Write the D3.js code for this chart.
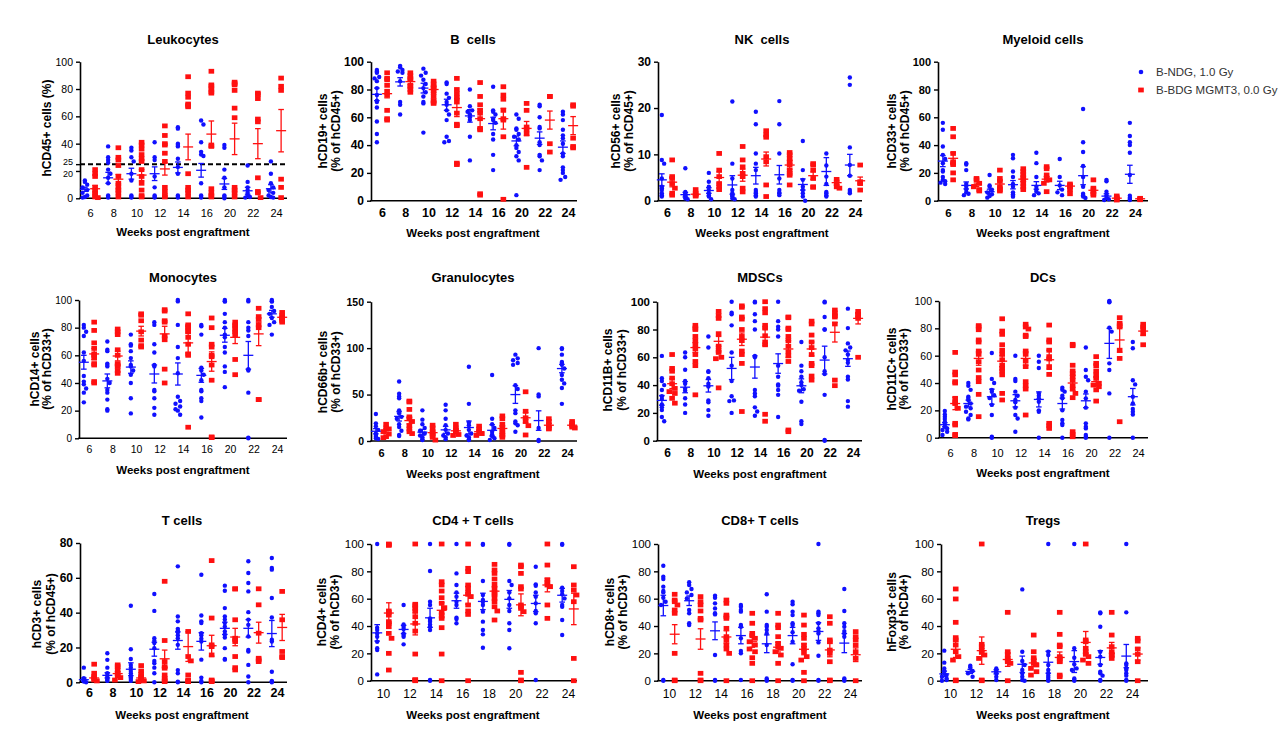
<!DOCTYPE html>
<html><head><meta charset="utf-8">
<script src="https://cdn.jsdelivr.net/npm/d3@7"></script>
<style>body{margin:0;background:#fff}svg{display:block}text{font-family:"Liberation Sans",Arial,sans-serif}</style>
</head><body><svg id="c" width="1288" height="734"></svg>
<script>
const catsA=["6","8","10","12","14","16","20","22","24"];
const catsB=["10","12","14","16","18","20","22","24"];
const legendLabels=["B-NDG, 1.0 Gy","B-BDG MGMT3, 0.0 Gy"];
const leuThreshold=25;

// Leukocytes
const leuB=[[13,12,10,8,6,4,2,1,0.5],[38,30,28,26,21,18,15,11,2,1,0.5],[37,35,30,27,18,13,2,1,0.5],[41,30,28,16,8,2,1,0.5],[52,51,40,39,38,29,23,18,2,1,0.5],[57,54,41,34,32,31,11,2,1,0.5],[39,37,21,15,8,2,1,0],[24,12,8,6,4,2,1,0.5],[27,18,11,8,6,4,2,1,0.5]];
const leuBMean=[6.6,15,18,18,22.6,20.5,10.5,5.5,7];
const leuBSem=[1.5,4,4,5,4,5,4,2.5,3];
const leuR=[[21,18,16,8,6,4,2,1,0.5],[37,30,28,24,16,11,8,6,4,1],[41,39,36,32,29,27,21,16,11,6,2,1],[53,46,40,39,33,27,8,5,2,1],[89,77,74,69,68,67,18,8,6,4,1],[93,83,82,80,78,77,39,38,7,4,2,1],[85,84,83,79,66,59,8,6,4,1],[77,76,73,58,56,15,5,4,0.5],[88,82,79,14,8,0.5]];
const leuRMean=[7,14,17,21.5,37.6,47,43.5,40,49.5];
const leuRSem=[2.5,3.5,4,4.5,9.4,9.6,11.5,11,15.5];
// B cells
const bcB=[[94,93,92,89,88,86,81,76,72,71,67,57,48,42],[97,96,94,93,92,86,71,69,62],[95,92,90,87,84,81,78,75,71,70,49],[85,84,77,74,71,69,65,62,58,46,43,42],[80,68,65,64,62,60,58,46,29],[82,65,64,62,59,58,56,48,44,33,22],[62,59,52,51,48,46,44,40,38,35,32,29,4],[69,68,60,53,52,42,40,33,32,29,22],[64,62,58,51,47,45,41,34,32,24,22,20,17,15]];
const bcBMean=[76.5,85.5,81,69,61,55.5,43,45,38.5];
const bcBSem=[4.5,3,3.5,4,4.5,4.5,3.5,4.5,4.5];
const bcR=[[92,88,87,83,78,76,65,59,58],[92,90,88,87,83,82,80,78],[86,84,82,81,78,75,72,71,70],[88,80,77,74,71,63,55,54,27,26],[85,75,69,65,63,59,52,51,5,4],[82,76,73,65,59,58,46,1],[70,65,53,51,48,24],[75,75,41,35],[69,68,45,39,38]];
const bcRMean=[77,85.7,80,67,59,59,52,58,54];
const bcRSem=[3,2,2,6.5,7,7.5,5,6.5,6.5];
// NK cells
const nkB=[[18.5,8.8,8,4.8,3,2.7,2.3,1.6,1.2,0.9],[7,1.9,1.6,1.2,0.9,0.5,0.3],[6,4.1,3,2.3,1.6,1.2,0.9,0.3],[21.4,8,4.8,2.3,1.6,1.2,0.9,0.5,0.3],[19.2,16.5,10.2,8,6.6,2.3,1.9,1.6,1.2,0.9],[21.5,16.5,10.2,4.8,2.3,1.7,1.6,1.2],[12.9,6.6,4.5,3,2.3,1.6,0.9,0],[10.2,7.6,5.2,3.6,1.9,1.6,1.2,0.9],[26.6,25,11.5,7.7,5.4,2.3,1.9,1.6]];
const nkBMean=[4.5,1.3,2.2,3.4,5.4,5.6,3.5,6.3,7.7];
const nkBSem=[1.3,0.5,0.6,2,1.8,2,1.2,3,2.3];
const nkR=[[8.8,5.2,4.8,3.7,2.7,1.6,1.2],[2.4,1.6,1.2,1],[10.2,6.6,5.2,3.7,3,2.4],[11.7,8.8,7.3,5.9,5.2,2.7,1.9],[15.1,14.2,13.7,9.5,8.4,3.4,0.9],[10.4,9.9,9.1,8.4,7.7,6.6,5.9,5.5,3.4],[8,7.7,6.6,4.8,3,2.9],[4.6,3.7,3,2.7],[7.7,4.1,3.7,2.3]];
const nkRMean=[4,1.4,5,5.5,9,7.7,5.4,3.9,4.3];
const nkRSem=[1,0.3,1.2,1.3,1.5,0.9,0.8,0.5,0.8];
// Myeloid cells
const myB=[[56,51,39,33,30,27,22,21,17,15,14,13,12],[27,26,22,12,10,8,6,5,4],[18.5,11,10,8,6,4.6,3.4,2.2],[33,30.5,21,17,12,10,6,4.6,3.6,2.9],[34.5,27,17,10,8,6.5,5.3,4],[30,17,11,8,6,4],[66,42,35,25,17,10,5,4,3,2],[15,14,6.5,4,2,1,0.5],[56,46.5,42,40,34.5,18.5,3.6,2.2,1.2,0.5]];
const myBMean=[28.5,11,6.5,11.5,11,11,18,3.3,19];
const myBSem=[4,2.5,1.8,3,2.7,3,6.5,1.7,6.5];
const myR=[[52,46,34,28,27,26,20,15],[16,15,12.5,10,8,7],[22,16,14,10,8,7],[23,21,19,17,15,12.5,10,8],[24.5,23,18.5,16,15,12.5,6.5],[12,11,10,8,5],[15,9,6.5,5,4],[3.4,2.2,1.2,0.5],[1.7,1.2,0.7]];
const myRMean=[30.5,11.5,12,15.5,15.5,10.5,7.5,1.8,1.4];
const myRSem=[4,1.2,2.2,1.7,2,1.3,1.5,0.5,0.2];
// Monocytes
const moB=[[82,80,77,74,62,56,45,41,39,36,33,26],[70,64,63,54,53,52,43,40,35,33,28,21,20],[75,68,67,63,58,53,52,49,46,40,29,18],[84,82,68,62,53,52,35,34,29,22,17],[100,99,82,66,58,47,30,27,25,23,21,20,17],[82,81,75,51,49,46,42,35,34,29,27,15],[100,99,99,90,84,80,75,73,66,62,52,48,37],[100,99,84,80,78,74,50,49,33,0.5,0],[100,99,99,95,92,90,87,84,82,75]];
const moBMean=[55,41.5,51.5,46.5,46.5,45.5,74.5,60,90];
const moBSem=[5,5,4.5,6.5,8,5,5,10,2.5];
const moR=[[84,78,69,65,61,60,58,54,53,41,40],[79,77,75,64,60,54,53,52,49,47],[90,89,85,77,71,67,66],[93,92,85,84,74,72,50,40],[90,82,81,80,78,77,73,68,61,60,8],[87,80,68,66,60,59,53,42,1,0.5],[84,82,81,79,77,75,57,46],[94,88,86,82,80,28,28],[91,89,87,86,85,84]];
const moRMean=[61,59.5,77.5,75.5,69,55.5,73,75.5,87.5];
const moRSem=[4,3.5,3.5,5.5,7,7,4.5,8.5,1];
// Granulocytes
const grB=[[29,19,16,12,8,6.5,4.7,2.9,2.2],[64,51,48,46,33,30,26,24,18,15,11,6.5,5.4],[33,23,18,14,11,8,6,4,2,1],[39,33,24,17,12,8,6,4,2],[80,40,20,17,12,8,6,4,2,1],[71,24,18,14,10,7,5,3,1],[93,89,87,84,82,60,56,33,30,21,19,17,10],[100,50,48,14,0,1],[100,99,93,85,84,82,78,71,66,62,57,40]];
const grBMean=[10.5,26.5,9.5,12,14.5,11.5,50,22,78];
const grBSem=[2.8,5,3,3.7,7,6,9.5,10.5,4.5];
const grR=[[18,14,13,10,7.5,4.7,3.6],[43,42,34,26,24,21,16.5,13,10,8],[17,14,10,8,6,4,1],[18,14,12,10,7,6],[16,13,10,8,6],[27,24,18,14,10,7,6,4],[53,32,25,21,16.5,6.5],[24,21,17,14,13],[21,19,17,15,14]];
const grRMean=[11.5,22,9,11,10,13.5,25,17,17];
const grRSem=[2,3.5,2,2,1.8,3,5.5,2,1.3];
// MDSCs
const mdB=[[61,45,43,40,36.5,32,30,26,24,22,17,14],[63.5,60,51,43,41,37.5,36,30.5,26,20],[75,67,50,49.5,45,41,39,29,27.6,22,18],[100,92,91,83,63.5,54,43,32,29,28.5,20],[100,99.5,91,86,80,61,60,36.5,34,32,24,21,18],[100,86,82,80,75,54,46,40.5,39.6,36.5,33,17],[71,54,50,46,42,40,37,36,28,14,12],[100,99.5,89,80,80,60,50,48,33,0.5,0],[95,81,70,67,65,62,58,56,46,44,28.5,24.5]];
const mdBMean=[29,38.5,39.5,52,53,55.5,39.5,58,59];
const mdBSem=[3.5,4,4.5,8,8,7,5,10,5.5];
const mdR=[[62,52,50,45,41,37.6,35.3,34,30.5,27],[83,81,80,75,72,69,66,62,57,54,33],[93,90,88,77,68,65,63.5,60,59,38],[97,96,89,87.5,80,75,72,64.5,62,55.6,21],[100,95,92,83,81,75.5,71,69,19,14],[89,88.5,81,80,75,72,68,64,61,57,7.7,6.5],[86,84,76,71,67,62,55.6,54,46.5,43.6],[94,92,90,89,84,43.6,39.6],[93,91,90,88,60]];
const mdRMean=[41,67,71.5,73,74.5,66,66,78,88];
const mdRSem=[3.5,3.5,3.5,4.5,6,6,5,7,4];
// DCs
const dcB=[[19.5,17,15.4,13.7,11.7,9.8,8,6.8,5.6,4.4,2],[40,38,35,30,29,27.6,25,22.7,21.5,19,16.6,14,13.4],[62,43,40,35,33.7,31,29,24,16.6,0.7,0],[60,43,41.5,33.7,30.7,27.6,26,22,16.6,14,4.4],[60,55.6,51,32.4,30.7,28.8,26.3,20,19,0],[36.6,35,33.7,30.7,28.8,20,13,10.5,9.3,0],[66,49.5,44.6,42,33.7,28.8,22,10.5,8,6.8,2,0.7,0],[100,99.5,99,80.5,77.6,54.4,49.5,32.4,0],[70,65.4,42,39,30,25,21,19,17,0]];
const dcBMean=[9.5,25,30,27,28,25,27,69,30];
const dcBSem=[1.5,2.5,5.5,4.5,5.5,4,5,11,6];
const dcR=[[62.4,48,46,41,40,28.8,26,25,21.5,10.5,9.3,2.4,1.5],[82,81,79,71.5,70,63.4,61,55.6,49.5,44,41,31.7,15.4],[87,78,75.6,68,64,61,57,53,50.7,48.8,46,32.4,27.6],[83,81,79.5,75,74,63.4,61,56,52,41,38,35.6,16.6],[82.4,71.5,70,64,59.3,57.6,52,46.3,10.5,8.8,6.8],[68.3,67.3,53,48.8,47,44.6,42,38,35.6,32.4,29.3,4.4,2.4,0.7],[59.3,54.4,52.7,48.8,46,43.4,39.8,38.5,37.3,35,26.8],[87.8,83.7,82.4,81,64,58,11.7],[83,81,79,76,68]];
const dcRMean=[25,58,56,58,57,40,41,71.5,78];
const dcRSem=[4.5,5,4,5,7,5.5,3,9,3];
// T cells
const tcB=[[8.4,2.3,1.3,0.8,0.4,0],[16.7,12.9,8.4,5.2,3.8,2.7,1.9,1.3,0.8],[44,19,13.4,10,8.4,6.5,5.2,3.8,2.7,1.9,0.8],[50.7,41,25.3,23.8,22.5,19.6,12.3,10.9,8.4,5.2,0],[66.6,37.8,35,30.7,29.6,28.8,27,25.3,21.5,7,5.2,0.4,0],[61.8,38.4,35,34,28.2,27,25,23.4,13,2.7,0.8,0],[55.5,52.6,42.6,37.8,36,34,32,29.2,27.3,25.7,19.6,13.4,13],[69.5,62.8,57,52.2,40.3,36,33,26.3,18.6,17.7,10,3.3,0],[71.4,65.6,64.7,48.4,37.2,24.4,23.4,6.1,0.8,0.4,0]];
const tcBMean=[1.5,4,7.5,19,24,23.5,31,31,28];
const tcBSem=[1,1.5,3.7,4,5,5,3.5,5,7.5];
const tcR=[[10.4,5.2,3.3,2.3,1.3,0.8],[10,9,7.1,5.2,3.8,2.7,1.3],[9.6,6.5,4.6,3.3,2.3,1.3,0.8,0.4],[58,24,11.9,9,8.1,4.2,2.3,1.3,0.4],[29.2,14.8,12.3,4.2,1.3,0.8,0.4],[69.9,36.9,21.5,20.5,15.7,1.3,0.8,0.4],[53.7,53.6,35.9,25.3,24.4,23.4,14.8,8.4,7.1],[53.7,44.5,28.2,13.8,12.9,11.9],[52.2,35.9,17.7,14.8,14.2]];
const tcRMean=[2.5,5,2.5,13.5,20.5,21,26,28.5,31.5];
const tcRSem=[1,1,1,5,8.5,6,5,6,7.5];
// CD4+ T cells
const c4B=[[100,38.8,37.1,34.6,32.2,28.5,23.7,22.4,4.6],[55.4,41.2,39.5,37.8,34.6,33.4,32.2,26.6],[100,80.2,57.8,55.4,45.6,44.4,43.2,41.2,39.5,37.1,0.5,0],[100,78.5,70,64.6,61.5,57.8,55.4,46.1,45.1,42],[100,99.5,72.9,62.7,59,57.8,55.4,50.5,43.2,37.1,33.9,24.1],[100,99.5,72.9,70,64.6,60.2,55.4,51,42,37.1,23.7],[83.4,70.5,69.5,64.6,61.5,56.6,51,49.3,42,0.5],[100,99.5,68,65.6,63.2,60.2,55.4,54.1,44.4,33.4]];
const c4BMean=[35,37.5,46,58.5,58,59.5,56.5,62.5];
const c4BSem=[6,3,7,5.5,6,6.5,6,5];
const c4R=[[100,99.5,99,51,50,48,43.2,42,39.5,34.6,31,20,7.8],[100,55.9,54.9,52.9,51,46.8,42,36.3,19.5,0.7,0.5,0],[100,72.4,70,65.6,60.7,56.6,53.4,50,48,45.6,38.8,19.5,0],[100,82.2,79.8,70,67.6,64.6,63.2,61.5,55.4,51,48.5,0],[85.1,81,78.5,74.4,70.5,67.6,64.6,63.2,60.2,57.8,54.1,51,44.4],[84.6,83.4,78.5,68.8,67.1,55.4,54.1,52.9,50.5,6.1,0.5,0],[100,84.6,73.7,72,70,68.8,55.4,45.6],[83.4,70,66.3,62.7,57.8,16.3,0]];
const c4RMean=[49.5,41.5,51.5,62.5,65.5,55.5,70,52.5];
const c4RSem=[7.5,8,5.5,6.5,3,8,5,11.5];
// CD8+ T cells
const c8B=[[84.1,76.1,74.4,68.8,65.6,64.6,60.7,57.8,55.4,0.5,0],[72,70,67.1,64.6,62.7,60.2,51.7,49.3,42,40.7],[62.2,60.7,56.6,52.9,49.3,48.5,18.8,0.5,0],[55.4,54.1,51.7,50.5,40.7,39.5,31,21.7,20,0.5],[63.2,50.5,40.7,39.5,37.1,34.6,26.1,1.7,0.5,0],[57.8,55.9,50.5,48,42,40.7,35.4,28.5,12,0.5,0],[100,50.5,49.3,48,42,38.3,36.3,34.6,28,18.3,0.5,0],[67.1,51,42,39.5,36.3,34.6,32.2,1.7,0.5,0]];
const c8BMean=[55,58.5,36.5,33,27,33,36,27.5];
const c8BSem=[7.5,3.5,6.5,6,6.5,6,6.5,7];
const c8R=[[63.2,59,57.8,55.4,51.7,49.3,20,0.5,0],[61.5,57.8,55.4,51,45.6,44.4,5.4,0.5,0],[59,56.6,48,46.8,45.6,38.3,32.2,29.8,26.1,23.2,20,0],[49.3,42,34.6,32.9,31,28.5,26.1,23.2,21.2,16.8,12.7,0],[49.3,40.7,38.8,32.2,27.3,24.9,23.7,21.2,18.8,12.7,0],[48,40.7,33.9,31,26.1,23.7,21.2,17.6,15.1,6.1,0],[46.8,42,29.8,28.5,22.4,20,13.9,0.5,0],[35.9,32.2,29.8,26.1,21.2,16.3,0]];
const c8RMean=[34,30.5,32,28.5,24.5,23,22.5,19];
const c8RSem=[7,7.5,4.5,4,3.5,4,5,5];
// Tregs
const trB=[[22,13.2,9,7.1,5.4,4.1,2.9,1.7,0.5,0],[11,9.8,7.1,5.4,2.9],[9,7.8,6.6,5.4,2.9,0.5],[66.8,21.2,14.4,11.5,7.8,5.4,2.9,0.5,0],[100,21.2,18.8,11.5,7.8,5.4,3.7,2.2,0.5,0],[100,23.7,16.8,12,9,7.8,1.7,0.5,0],[50,49.3,39.5,21.2,17.6,11.5,6.6,5.4,3.7,0.5,0],[100,50,12.7,11.5,9,7.8,5.4,3.7,0.5,0]];
const trBMean=[5,6.8,6.5,12,13.5,14,17,18];
const trBSem=[2,1.5,1.5,6,8,8,5,8.5];
const trR=[[67.1,59.8,42.7,31.5,29.8,26.1,21.2,17.6,15.1,0.5,0],[100,26.6,24.9,22.4,20.7,18.8,16.3,0.5,0],[50,21.2,18.8,16.3,15.1,13.9,12.7,0],[33.4,21.2,16.8,15.1,12.7,11.5,9,6.6,4.1],[50,33.9,26.1,24.9,17.6,16.3,15.1,13.9,4.1,2.9],[100,29.8,28.5,23.7,21.2,19.3,17.6,15.1,12.7],[50,33.4,24.9,21.2,19.3,18.3,16.3],[31,29,23.2,19.3,13.9,0]];
const trRMean=[23,22,15.5,13,17,28,24,19.5];
const trRSem=[6,10,5,2.5,4,8,4,4.5];

const t100=[0,20,40,60,80,100];
const panels=[
 {title:"Leukocytes",cats:catsA,b:leuB,bm:leuBMean,bs:leuBSem,r:leuR,rm:leuRMean,rs:leuRSem,yMax:100,ticks:t100,tb:false,ts:10.5,x0:80,x1:287,c0:90,c1:276,yb:198.3,yt:61.7,tx:183,ty:39,xty:213,xtt:232,yl:["hCD45+ cells (%)"],ylx:[47],yly:128,thr:true},
 {title:"B  cells",cats:catsA,b:bcB,bm:bcBMean,bs:bcBSem,r:bcR,rm:bcRMean,rs:bcRSem,yMax:100,ticks:t100,tb:true,ts:12,x0:371,x1:577,c0:382,c1:568,yb:200.7,yt:61.7,tx:473,ty:39,xty:213,xtt:233,yl:["hCD19+ cells","(% of hCD45+)"],ylx:[323,336],yly:131},
 {title:"NK  cells",cats:catsA,b:nkB,bm:nkBMean,bs:nkBSem,r:nkR,rm:nkRMean,rs:nkRSem,yMax:30,ticks:[0,10,20,30],tb:true,ts:12,x0:658,x1:862,c0:667,c1:855,yb:200.7,yt:61.7,tx:762,ty:39,xty:213,xtt:233,yl:["hCD56+ cells","(% of hCD45+)"],ylx:[616,629],yly:131},
 {title:"Myeloid cells",cats:catsA,b:myB,bm:myBMean,bs:myBSem,r:myR,rm:myRMean,rs:myRSem,yMax:100,ticks:t100,tb:true,ts:11,x0:938,x1:1148,c0:948,c1:1135,yb:200.7,yt:61.7,tx:1043,ty:39,xty:213,xtt:233,yl:["hCD33+ cells","(% of hCD45+)"],ylx:[892,905],yly:131},
 {title:"Monocytes",cats:catsA,b:moB,bm:moBMean,bs:moBSem,r:moR,rm:moRMean,rs:moRSem,yMax:100,ticks:t100,tb:false,ts:10,x0:79,x1:287,c0:89,c1:277,yb:438.3,yt:300,tx:183,ty:277,xty:449,xtt:470,yl:["hCD14+ cells","(% of hCD33+)"],ylx:[35,47],yly:369},
 {title:"Granulocytes",cats:catsA,b:grB,bm:grBMean,bs:grBSem,r:grR,rm:grRMean,rs:grRSem,yMax:150,ticks:[0,50,100,150],tb:true,ts:10.5,x0:371,x1:577,c0:381,c1:567,yb:441,yt:301.7,tx:473,ty:277,xty:453,xtt:474,yl:["hCD66b+ cells","(% of hCD33+)"],ylx:[323,336],yly:372},
 {title:"MDSCs",cats:catsA,b:mdB,bm:mdBMean,bs:mdBSem,r:mdR,rm:mdRMean,rs:mdRSem,yMax:100,ticks:t100,tb:true,ts:11.5,x0:657,x1:862,c0:667,c1:853,yb:440.7,yt:301.7,tx:760,ty:277,xty:453,xtt:474,yl:["hCD11B+ cells","(% of hCD33+)"],ylx:[608,622],yly:370},
 {title:"DCs",cats:catsA,b:dcB,bm:dcBMean,bs:dcBSem,r:dcR,rm:dcRMean,rs:dcRSem,yMax:100,ticks:t100,tb:false,ts:10.5,x0:939,x1:1148,c0:950,c1:1138,yb:437.7,yt:301,tx:1043,ty:277,xty:453,xtt:473,yl:["hCD11C+ cells","(% of hCD33+)"],ylx:[892,904],yly:369},
 {title:"T cells",cats:catsA,b:tcB,bm:tcBMean,bs:tcBSem,r:tcR,rm:tcRMean,rs:tcRSem,yMax:80,ticks:[0,20,40,60,80],tb:true,ts:12,x0:80,x1:287,c0:89,c1:277,yb:682.3,yt:543,tx:182,ty:520,xty:693,xtt:715,yl:["hCD3+ cells","(% of hCD45+)"],ylx:[37,51],yly:614},
 {title:"CD4 + T cells",cats:catsB,b:c4B,bm:c4BMean,bs:c4BSem,r:c4R,rm:c4RMean,rs:c4RSem,yMax:100,ticks:t100,tb:false,ts:11.5,x0:371,x1:577,c0:383,c1:568,yb:680.7,yt:544,tx:473,ty:520,xty:694,xtt:715,yl:["hCD4+ cells","(% of hCD3+)"],ylx:[322,335],yly:612},
 {title:"CD8+ T cells",cats:catsB,b:c8B,bm:c8BMean,bs:c8BSem,r:c8R,rm:c8RMean,rs:c8RSem,yMax:100,ticks:t100,tb:false,ts:11.5,x0:658,x1:862,c0:669,c1:850,yb:680.7,yt:544,tx:760,ty:520,xty:694,xtt:715,yl:["hCD8+ cells","(% of hCD3+)"],ylx:[610,623],yly:612},
 {title:"Tregs",cats:catsB,b:trB,bm:trBMean,bs:trBSem,r:trR,rm:trRMean,rs:trRSem,yMax:100,ticks:t100,tb:false,ts:11.5,x0:941,x1:1148,c0:950,c1:1132,yb:680.7,yt:544,tx:1043,ty:520,xty:694,xtt:715,yl:["hFoxp3+ cells","(% of hCD4+)"],ylx:[892,904],yly:612}
];

const BLUE="#1010ff", RED="#ff1010";
const svg=d3.select("#c");

function swarm(vals,y,cx,size,maxOff){
  const pts=vals.map(v=>({v,py:y(v)})).sort((a,b)=>a.py-b.py);
  const placed=[]; const st=size*0.55; const offs=[0];
  for(let k=1;k*st<=maxOff+0.01;k++){offs.push(k*st,-k*st);}
  pts.forEach(pt=>{
    let best=0,bestC=Infinity;
    for(const o of offs){let c=0;for(const q of placed){if(Math.hypot(cx+o-q.px,pt.py-q.py)<size)c++;}
      if(c<bestC){bestC=c;best=o;} if(c===0)break;}
    pt.px=cx+best; placed.push(pt);
  });
  return placed;
}

panels.forEach(p=>{
  const g=svg.append("g");
  const y=d3.scaleLinear().domain([0,p.yMax]).range([p.yb,p.yt]);
  const x=d3.scalePoint().domain(p.cats).range([p.c0,p.c1]);
  const step=x.step(); const off=step*0.22; const maxOff=step*0.15;
  if(p.thr){
    g.append("line").attr("x1",p.x0).attr("x2",p.x1).attr("y1",y(leuThreshold)).attr("y2",y(leuThreshold))
     .attr("stroke","#000").attr("stroke-width",2).attr("stroke-dasharray","5,3");
  }
  const ticks=p.thr?p.ticks.concat([leuThreshold]):p.ticks;
  const ya=g.append("g").attr("transform",`translate(${p.x0},0)`)
    .call(d3.axisLeft(y).tickValues(ticks).tickSize(4).tickSizeOuter(0).tickPadding(3).tickFormat(d3.format("d")));
  ya.select(".domain").attr("stroke","#000").attr("stroke-width",1.6);
  ya.selectAll(".tick line").attr("stroke","#000").attr("stroke-width",1.4);
  ya.selectAll(".tick text").attr("font-size",p.ts).attr("font-weight",p.tb?"bold":"normal").attr("fill","#000")
    .attr("font-family",'"Liberation Sans",Arial,sans-serif');
  if(p.thr){
    // the threshold label sits right on top of the 20 label in the original; nudge apart slightly
    ya.selectAll(".tick").filter(d=>d===leuThreshold).select("text").attr("font-size",9).attr("y",-2.2);
    ya.selectAll(".tick").filter(d=>d===20).select("text").attr("font-size",9).attr("y",2.2);
  }
  const xa=g.append("g").attr("transform",`translate(0,${p.yb})`).call(d3.axisBottom(x).tickSize(0));
  xa.select(".domain").remove();
  xa.selectAll(".tick text").attr("y",p.xty-p.yb).attr("dy","0.35em").attr("font-size",p.ts+0.5)
    .attr("font-weight",p.tb?"bold":"normal").attr("fill","#000").attr("font-family",'"Liberation Sans",Arial,sans-serif');
  g.append("line").attr("x1",p.x0-0.8).attr("x2",p.x1).attr("y1",p.yb).attr("y2",p.yb).attr("stroke","#000").attr("stroke-width",1.6);
  p.b.forEach((vals,i)=>{
    const cx=x(p.cats[i])-off;
    g.selectAll(null).data(swarm(vals,y,cx,4.2,maxOff)).enter().append("circle")
      .attr("cx",d=>d.px).attr("cy",d=>d.py).attr("r",2.2).attr("fill",BLUE);
  });
  p.r.forEach((vals,i)=>{
    const cx=x(p.cats[i])+off;
    g.selectAll(null).data(swarm(vals,y,cx,5,maxOff)).enter().append("rect")
      .attr("x",d=>d.px-2.8).attr("y",d=>d.py-2.4).attr("width",5.6).attr("height",4.8).attr("fill",RED);
  });
  function bars(means,sems,color,sign){
    means.forEach((m,i)=>{
      const cx=x(p.cats[i])+sign*off;
      const hi=y(m+sems[i]), lo=y(Math.max(0,m-sems[i])), my=y(m);
      const eg=g.append("g").attr("stroke",color).attr("stroke-width",1.3);
      eg.append("line").attr("x1",cx-5).attr("x2",cx+5).attr("y1",my).attr("y2",my);
      eg.append("line").attr("x1",cx).attr("x2",cx).attr("y1",hi).attr("y2",lo);
      eg.append("line").attr("x1",cx-2.8).attr("x2",cx+2.8).attr("y1",hi).attr("y2",hi);
      eg.append("line").attr("x1",cx-2.8).attr("x2",cx+2.8).attr("y1",lo).attr("y2",lo);
    });
  }
  bars(p.bm,p.bs,BLUE,-1);
  bars(p.rm,p.rs,RED,1);
  g.append("text").attr("x",p.tx).attr("y",p.ty).attr("dy","0.35em").attr("text-anchor","middle")
    .attr("font-size",13).attr("font-weight","bold").style("white-space","pre").text(p.title);
  g.append("text").attr("x",p.tx).attr("y",p.xtt).attr("dy","0.35em").attr("text-anchor","middle")
    .attr("font-size",11.5).attr("font-weight","bold").text("Weeks post engraftment");
  p.yl.forEach((t,k)=>{
    g.append("text").attr("transform",`translate(${p.ylx[k]},${p.yly}) rotate(-90)`).attr("dy","0.35em")
      .attr("text-anchor","middle").attr("font-size",12).attr("font-weight","bold").text(t);
  });
});

const lg=svg.append("g");
lg.append("circle").attr("cx",1141).attr("cy",72).attr("r",2.3).attr("fill",BLUE);
lg.append("rect").attr("x",1138.2).attr("y",87.6).attr("width",5.6).attr("height",4.8).attr("fill",RED);
legendLabels.forEach((t,i)=>{
  lg.append("text").attr("x",1156).attr("y",72+i*18).attr("dy","0.35em").attr("font-size",11.5).attr("fill","#333").text(t);
});
</script></body></html>
